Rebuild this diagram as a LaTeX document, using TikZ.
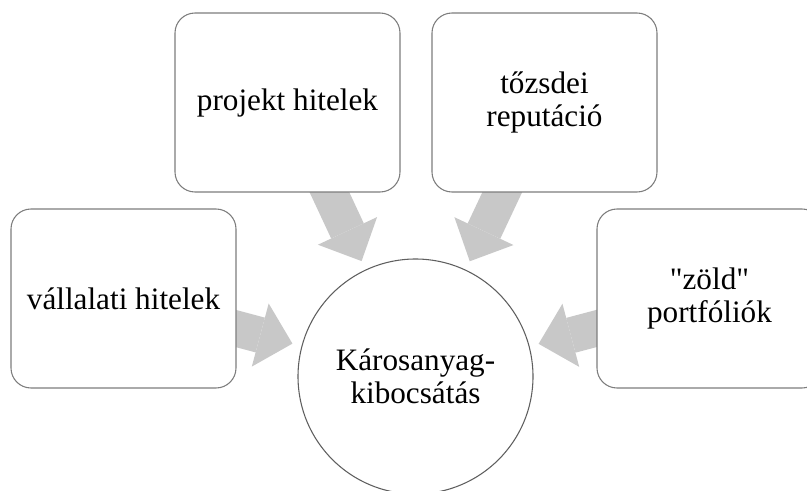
\documentclass[tikz,border=0pt]{standalone}
\usepackage{fontspec}
\setmainfont[Ligatures=TeXOff]{Liberation Serif}
\usepackage{tikz}
\usetikzlibrary{arrows.meta,backgrounds}
\definecolor{boxline}{RGB}{125,125,125}
\definecolor{circline}{RGB}{95,95,95}
\definecolor{arrowgray}{RGB}{200,200,200}

\begin{document}
\begin{tikzpicture}[line cap=round,line join=round,x=0.75pt,y=0.75pt,
  doboz/.style={draw=boxline,line width=0.8pt,fill=white,rounded corners=15pt,minimum width=168.75pt,minimum height=134.25pt,inner sep=0pt,align=center,font=\fontsize{23.4}{24.5}\selectfont},
  kor/.style={circle,draw=circline,line width=0.8pt,fill=white,minimum size=176.25pt,inner sep=0pt,align=center,font=\fontsize{23.4}{24.5}\selectfont},
  nyil/.style={draw=arrowgray,line width=27pt,line cap=butt,-{Triangle[length=25pt,width=49pt,line width=0pt]},shorten >=7pt}]
\useasboundingbox (0,0) rectangle (807,490);
\clip (0,0) rectangle (807,490);
\node[kor] (kibocsatas) at (415.5,113.5) {Károsanyag-\\kibocsátás};
\node[doboz] (projekt) at (287.5,387.5) {projekt hitelek};
\node[doboz] (tozsde) at (544.5,387.5) {tőzsdei\\reputáció};
\node[doboz] (vallalati) at (123.5,191.5) {vállalati hitelek};
\node[doboz] (zold) at (709.5,191.5) {"zöld"\\portfóliók};
\begin{scope}[on background layer]
\draw [nyil] (projekt.center) -- (kibocsatas);
\draw [nyil] (tozsde.center) -- (kibocsatas);
\draw [nyil] (vallalati.center) -- (kibocsatas);
\draw [nyil] (zold.center) -- (kibocsatas);
\end{scope}
\end{tikzpicture}
\end{document}
